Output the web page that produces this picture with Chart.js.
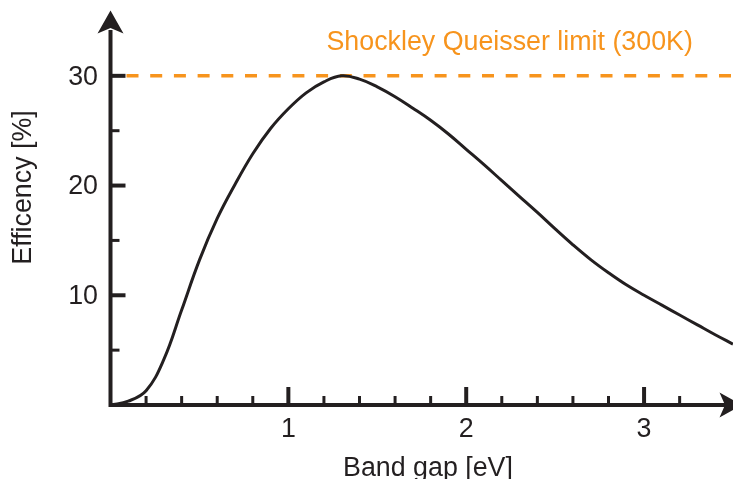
<!DOCTYPE html>
<html>
<head>
<meta charset="utf-8">
<script src="https://cdn.jsdelivr.net/npm/chart.js@4.4.1/dist/chart.umd.min.js"></script>
<style>
html,body{margin:0;padding:0;background:#fff;}
#wrap{position:relative;width:733px;height:479px;}
</style>
</head>
<body>
<div id="wrap"><canvas id="c" width="733" height="479"></canvas></div>
<script>
// Data
const bandGap = [0, 0.1, 0.2, 0.3, 0.4, 0.5, 0.6, 0.7, 0.8, 0.9, 1.0, 1.1, 1.2, 1.3, 1.4, 1.5, 1.6, 1.7, 1.8, 1.9, 2.0, 2.1, 2.2, 2.3, 2.4, 2.5, 2.6, 2.7, 2.8, 2.9, 3.0, 3.1, 3.2, 3.3, 3.4, 3.5];
const efficiency = [0, 0.35, 1.3, 4.15, 8.65, 13.2, 17.0, 20.1, 22.9, 25.2, 27.0, 28.45, 29.45, 30.0, 29.7, 29.0, 28.1, 27.05, 25.95, 24.7, 23.3, 21.9, 20.45, 19.0, 17.55, 16.05, 14.6, 13.25, 12.05, 10.95, 10.0, 9.1, 8.2, 7.3, 6.4, 5.55];
const limitX = [0.09, 3.5];
const limitY = [30, 30];
const xMajorTicks = [1, 2, 3];
const xMajorLabels = ['1', '2', '3'];
const xMinorTicks = [0.2, 0.4, 0.6, 0.8, 1.2, 1.4, 1.6, 1.8, 2.2, 2.4, 2.6, 2.8, 3.2];
const yMajorTicks = [10, 20, 30];
const yMajorLabels = ['10', '20', '30'];
const yMinorTicks = [5, 15, 25];
const xTitle = 'Band gap [eV]';
const yTitle = 'Efficency [%]';
const limitLabel = 'Shockley Queisser limit (300K)';

const INK = '#231F20';
const ORANGE = '#F7941D';
const FONT = '26.8px "Liberation Sans", Arial, sans-serif';

const axesPlugin = {
  id: 'axesPlugin',
  afterDraw(chart) {
    const ctx = chart.ctx;
    const xs = chart.scales.x, ys = chart.scales.y;
    const x0 = xs.getPixelForValue(0);
    const y0 = ys.getPixelForValue(0);
    ctx.save();
    ctx.strokeStyle = INK;
    ctx.fillStyle = INK;
    ctx.lineCap = 'butt';
    // axis lines
    ctx.lineWidth = 4;
    ctx.beginPath();
    ctx.moveTo(x0, 30);
    ctx.lineTo(x0, y0 + 2);
    ctx.moveTo(x0 - 2, y0);
    ctx.lineTo(726, y0);
    ctx.stroke();
    // arrow heads
    ctx.beginPath();
    ctx.moveTo(x0, 10.5);
    ctx.lineTo(x0 - 13, 33.5);
    ctx.lineTo(x0, 28);
    ctx.lineTo(x0 + 13, 33.5);
    ctx.closePath();
    ctx.fill();
    ctx.beginPath();
    ctx.moveTo(742, y0);
    ctx.lineTo(719.5, y0 - 12.5);
    ctx.lineTo(725, y0);
    ctx.lineTo(719.5, y0 + 12.5);
    ctx.closePath();
    ctx.fill();
    // y ticks
    ctx.lineWidth = 4;
    yMajorTicks.forEach(v => {
      const p = ys.getPixelForValue(v);
      ctx.beginPath(); ctx.moveTo(x0, p); ctx.lineTo(x0 + 15, p); ctx.stroke();
    });
    ctx.lineWidth = 3;
    yMinorTicks.forEach(v => {
      const p = ys.getPixelForValue(v);
      ctx.beginPath(); ctx.moveTo(x0, p); ctx.lineTo(x0 + 9, p); ctx.stroke();
    });
    // x ticks
    ctx.lineWidth = 4;
    xMajorTicks.forEach(v => {
      const p = xs.getPixelForValue(v);
      ctx.beginPath(); ctx.moveTo(p, y0); ctx.lineTo(p, y0 - 18); ctx.stroke();
    });
    ctx.lineWidth = 3;
    xMinorTicks.forEach(v => {
      const p = xs.getPixelForValue(v);
      ctx.beginPath(); ctx.moveTo(p, y0); ctx.lineTo(p, y0 - 9); ctx.stroke();
    });
    // tick labels
    ctx.font = FONT;
    ctx.fillStyle = INK;
    ctx.textAlign = 'right';
    ctx.textBaseline = 'middle';
    yMajorTicks.forEach((v, i) => {
      ctx.fillText(yMajorLabels[i], 98, ys.getPixelForValue(v) + 1.5);
    });
    ctx.textAlign = 'center';
    ctx.textBaseline = 'alphabetic';
    xMajorTicks.forEach((v, i) => {
      ctx.fillText(xMajorLabels[i], xs.getPixelForValue(v), 437);
    });
    // axis titles
    ctx.fillText(xTitle, 428, 476);
    ctx.save();
    ctx.translate(31, 187.5);
    ctx.rotate(-Math.PI / 2);
    ctx.fillText(yTitle, 0, 0);
    ctx.restore();
    // annotation
    ctx.fillStyle = ORANGE;
    ctx.textAlign = 'left';
    ctx.fillText(limitLabel, 326.5, 49.5);
    ctx.restore();
  }
};

new Chart(document.getElementById('c'), {
  type: 'line',
  data: {
    datasets: [
      {
        data: bandGap.map((x, i) => ({ x: x, y: efficiency[i] })),
        borderColor: INK,
        borderWidth: 3,
        pointRadius: 0,
        fill: false,
        tension: 0.4
      },
      {
        data: limitX.map((x, i) => ({ x: x, y: limitY[i] })),
        borderColor: ORANGE,
        borderWidth: 3.5,
        borderDash: [12, 11.7],
        pointRadius: 0,
        fill: false
      }
    ]
  },
  options: {
    responsive: false,
    animation: false,
    devicePixelRatio: 1,
    layout: { padding: { left: 110.5, right: 0, top: 10, bottom: 74 } },
    plugins: { legend: { display: false }, tooltip: { enabled: false } },
    scales: {
      x: { type: 'linear', min: 0, max: 3.5, display: false },
      y: { type: 'linear', min: 0, max: 36, display: false }
    }
  },
  plugins: [axesPlugin]
});
</script>
</body>
</html>
